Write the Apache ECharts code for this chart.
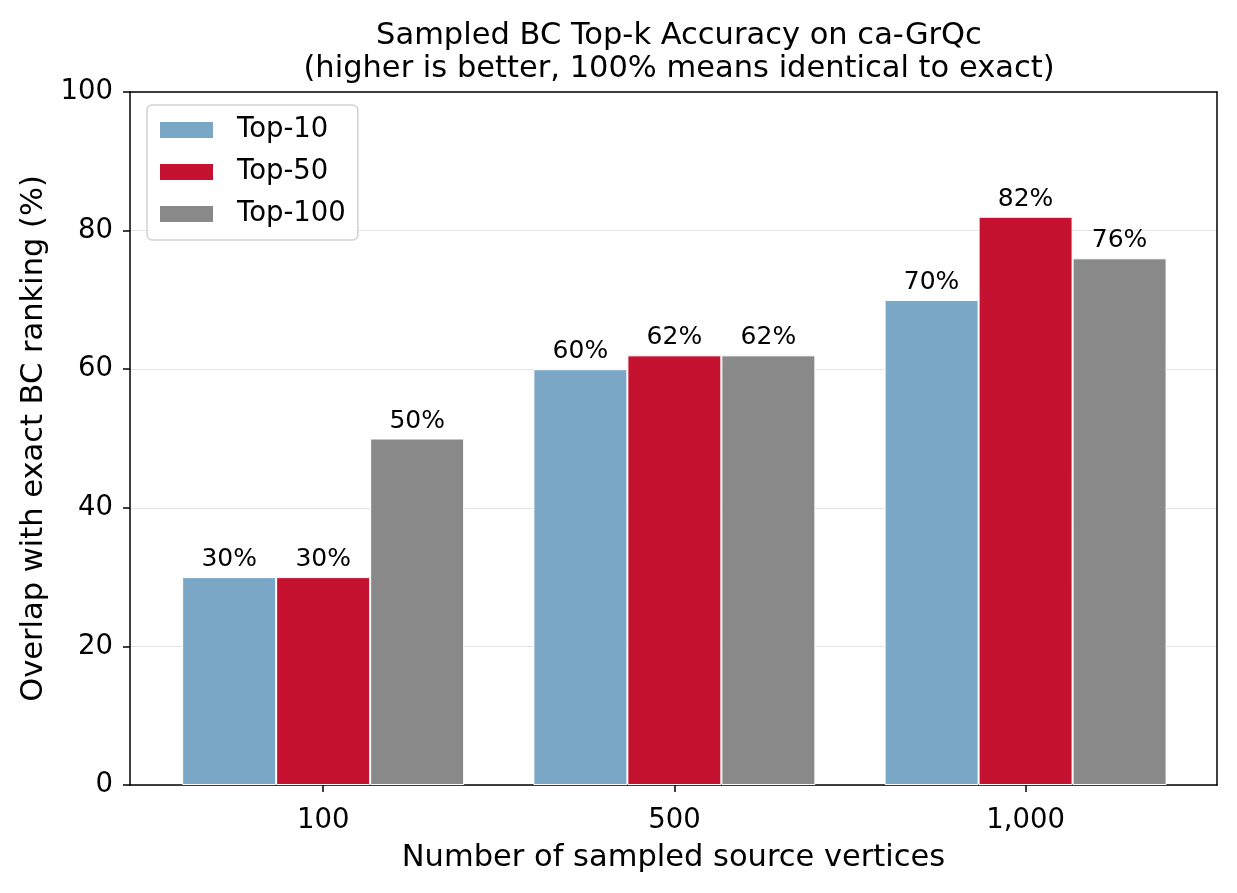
<!DOCTYPE html>
<html>
<head>
<meta charset="utf-8">
<script src="https://cdn.jsdelivr.net/npm/echarts@6/dist/echarts.min.js"></script>
<style>
  html, body { margin: 0; padding: 0; background: #fff; }
  #chart { width: 1237px; height: 893px; }
</style>
</head>
<body>
<div id="chart"></div>
<script>
// 数据
const categories = ['100', '500', '1,000'];
const seriesNames = ['Top-10', 'Top-50', 'Top-100'];
const top10 = [30, 60, 70];
const top50 = [30, 62, 82];
const top100 = [50, 62, 76];
const colors = ['#7ba7c6', '#c51230', '#898989'];
const yTicks = [0, 20, 40, 60, 80, 100];

const font = 'DejaVu Sans';
const chart = echarts.init(document.getElementById('chart'));

// 类别放在数值轴的 0,1,2 位置上（与 matplotlib 一致）
const toPoints = arr => arr.map((v, i) => [i, v]);
const catIndex = categories.map((c, i) => i);
const xMin = -0.55;
const xMax = 2.545;

const makeSeries = (name, values, color) => ({
  name: name,
  type: 'bar',
  data: toPoints(values),
  barWidth: 94,
  barGap: '0%',
  itemStyle: {
    color: color,
    borderColor: '#ffffff',
    borderWidth: 1
  },
  label: {
    show: true,
    position: 'top',
    distance: 5,
    formatter: p => p.value[1] + '%',
    color: '#000',
    fontFamily: font,
    fontSize: 25
  }
});

const option = {
  backgroundColor: '#ffffff',
  animation: false,
  title: {
    text: 'Sampled BC Top-k Accuracy on ca-GrQc\n(higher is better, 100% means identical to exact)',
    left: 674,
    textAlign: 'center',
    top: 15,
    textStyle: {
      fontFamily: font,
      fontSize: 30.5,
      fontWeight: 'normal',
      color: '#000',
      lineHeight: 33
    }
  },
  legend: {
    orient: 'vertical',
    left: 147,
    top: 105,
    data: seriesNames,
    icon: 'rect',
    itemWidth: 55,
    itemHeight: 18,
    itemGap: 14,
    padding: [11, 12, 12, 11],
    borderColor: '#d2d2d2',
    borderWidth: 1.5,
    borderRadius: 5,
    backgroundColor: '#ffffff',
    textStyle: {
      fontFamily: font,
      fontSize: 27.5,
      color: '#000',
      padding: [0, 0, 0, 18]
    }
  },
  grid: {
    left: 130,
    right: 20,
    top: 92,
    bottom: 108
  },
  xAxis: [
    {
      type: 'value',
      min: xMin,
      max: xMax,
      name: 'Number of sampled source vertices',
      nameLocation: 'middle',
      nameGap: 58,
      nameTextStyle: { fontFamily: font, fontSize: 30.5, color: '#000' },
      axisLine: { show: true, onZero: false, lineStyle: { color: '#000', width: 1.5 } },
      axisTick: { show: true, customValues: catIndex, length: 7, lineStyle: { color: '#000', width: 1.5 } },
      axisLabel: {
        customValues: catIndex,
        formatter: v => categories[Math.round(v)],
        fontFamily: font,
        fontSize: 27.5,
        color: '#000',
        margin: 22
      },
      splitLine: { show: false }
    },
    {
      type: 'value',
      position: 'top',
      min: xMin,
      max: xMax,
      axisLine: { show: true, onZero: false, lineStyle: { color: '#000', width: 1.5 } },
      axisTick: { show: false },
      axisLabel: { show: false },
      splitLine: { show: false }
    }
  ],
  yAxis: [
    {
      type: 'value',
      min: 0,
      max: 100,
      interval: 20,
      name: 'Overlap with exact BC ranking (%)',
      nameLocation: 'middle',
      nameGap: 80,
      nameTextStyle: { fontFamily: font, fontSize: 30.5, color: '#000' },
      axisLine: { show: true, onZero: false, lineStyle: { color: '#000', width: 1.5 } },
      axisTick: { show: true, length: 7, lineStyle: { color: '#000', width: 1.5 } },
      axisLabel: {
        fontFamily: font,
        fontSize: 27.5,
        color: '#000',
        margin: 17,
        customValues: yTicks
      },
      splitLine: { show: true, lineStyle: { color: '#e3e3e3', width: 1.2 } }
    },
    {
      type: 'value',
      position: 'right',
      min: 0,
      max: 100,
      axisLine: { show: true, onZero: false, lineStyle: { color: '#000', width: 1.5 } },
      axisTick: { show: false },
      axisLabel: { show: false },
      splitLine: { show: false }
    }
  ],
  series: [
    makeSeries(seriesNames[0], top10, colors[0]),
    makeSeries(seriesNames[1], top50, colors[1]),
    makeSeries(seriesNames[2], top100, colors[2])
  ]
};

chart.setOption(option);
</script>
</body>
</html>
